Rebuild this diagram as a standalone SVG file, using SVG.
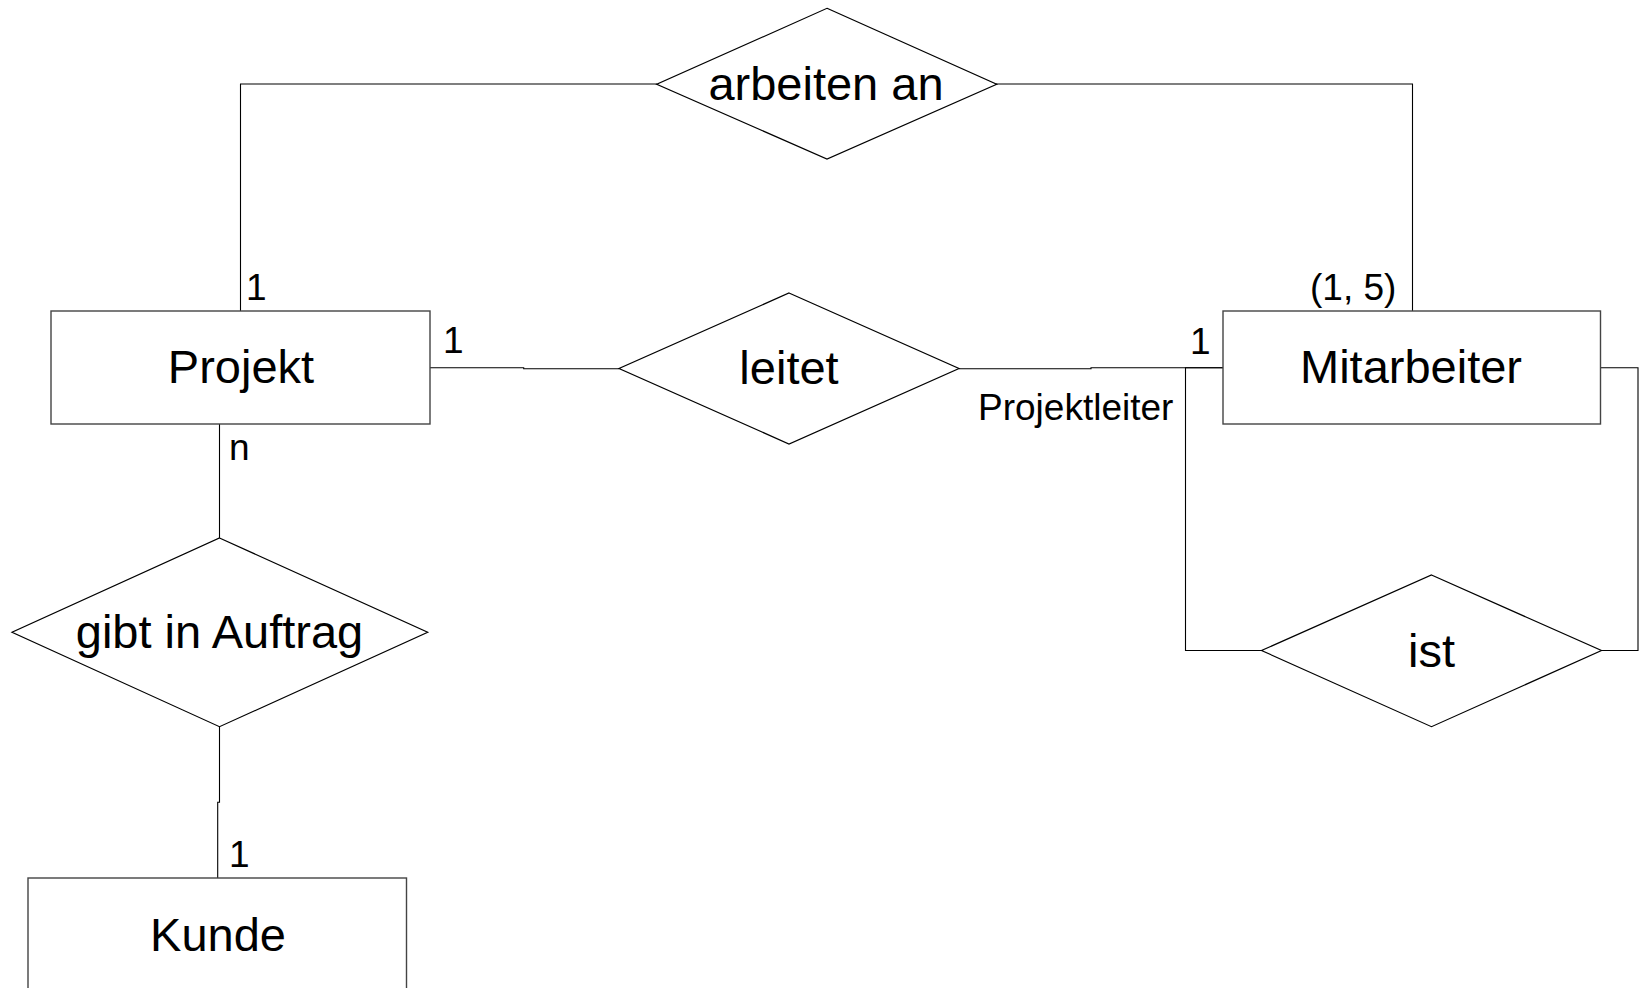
<svg xmlns="http://www.w3.org/2000/svg" width="1639" height="988" viewBox="0 0 1639 988">
<style>
.ent{fill:#fff;stroke:#444;stroke-width:1.4}
.rel{fill:#fff;stroke:#000;stroke-width:1.2}
.con{fill:none;stroke:#000;stroke-width:1.1}
.big{font-family:"Liberation Sans",Arial,sans-serif;font-size:47px;fill:#000;text-anchor:middle}
.sm{font-family:"Liberation Sans",Arial,sans-serif;font-size:37px;fill:#000}
</style>
<rect width="1639" height="988" fill="#fff"/>
<g id="connectors">
<polyline class="con" points="240.5,311 240.5,84 657,84"/>
<polyline class="con" points="996,84 1412.5,84 1412.5,311"/>
<polyline class="con" points="430,367.7 523.7,367.7 523.7,368.7 619,368.7"/>
<polyline class="con" points="959,368.7 1091,368.7 1091,367.7 1223,367.7"/>
<polyline class="con" points="1223,367.7 1185.5,367.7 1185.5,650.5 1261.5,650.5"/>
<polyline class="con" points="1600.5,367.7 1638,367.7 1638,650.5 1601,650.5"/>
<polyline class="con" points="219.5,424 219.5,538"/>
<polyline class="con" points="219.5,726.5 219.5,802.3 217.7,802.3 217.7,878"/>
</g>
<g id="arbeiten-an">
<polygon class="rel" points="827,8.3 996.7,84.3 827,159 656.7,84.3"/>
<text class="big" x="826" y="100">arbeiten an</text>
</g>
<g id="projekt">
<rect class="ent" x="51" y="311" width="379" height="113"/>
<text class="big" x="241" y="383">Projekt</text>
</g>
<g id="leitet">
<polygon class="rel" points="789,293 959,368.5 789,444 619,368.5"/>
<text class="big" x="789" y="384">leitet</text>
</g>
<g id="mitarbeiter">
<rect class="ent" x="1223" y="311" width="377.5" height="113"/>
<text class="big" x="1411" y="383">Mitarbeiter</text>
</g>
<g id="gibt-in-auftrag">
<polygon class="rel" points="219.5,538 427.7,632.3 219.5,726.7 12,632.3"/>
<text class="big" x="219.5" y="648">gibt in Auftrag</text>
</g>
<g id="kunde">
<rect class="ent" x="28" y="878" width="378.5" height="113"/>
<text class="big" x="218" y="951">Kunde</text>
</g>
<g id="ist">
<polygon class="rel" points="1431.5,575 1601.5,650.5 1431.5,726.7 1261.5,650.5"/>
<text class="big" x="1431.5" y="667">ist</text>
</g>
<g id="labels">
<text class="sm" x="246" y="300">1</text>
<text class="sm" x="443" y="352.5">1</text>
<text class="sm" x="229" y="460">n</text>
<text class="sm" x="229" y="866.5">1</text>
<text class="sm" x="1310" y="300">(1, 5)</text>
<text class="sm" x="1190" y="354">1</text>
<text class="sm" x="978" y="420">Projektleiter</text>
</g>
</svg>
